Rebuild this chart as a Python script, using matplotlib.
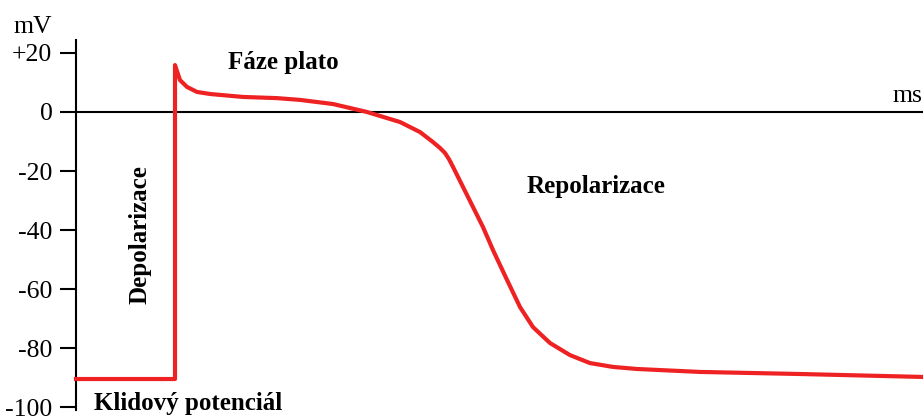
import matplotlib.pyplot as plt
import numpy as np

plt.rcParams['font.family'] = ['Liberation Serif', 'DejaVu Serif']

# akcni potencial srdecni bunky (cas v ms, napeti v mV)
t = np.array([0, 49.5, 49.5, 52, 55.5, 60.5, 67, 83.5, 100.5, 112, 128.5, 145.5,
              162, 172, 178.5, 182, 184.5, 186.5, 188.5, 193.5, 198.5, 203.5, 208.5,
              215.5, 222, 228.5, 237, 247, 257, 268.5, 280.5, 312, 362, 423.5])
mv = np.array([-90.5, -90.5, 15.9, 10.8, 8.5, 6.8, 6.1, 5.1, 4.7, 4.1, 2.7, 0,
               -3.4, -6.8, -10.2, -12.2, -13.9, -16.0, -18.6, -25.4, -32.2, -39.0,
               -46.8, -56.9, -66.1, -72.9, -78.3, -82.4, -85.1, -86.4, -87.1,
               -88.1, -88.8, -89.8])

yticks = [20, 0, -20, -40, -60, -80, -100]
ylabels = ['+20', '0', '-20', '-40', '-60', '-80', '-100']

fig = plt.figure(figsize=(9.23, 4.16), dpi=100)
ax = fig.add_axes([76/923, 6/416, 847/923, 370/416])

ax.plot(t, mv, color='#ee2222', lw=3, solid_joinstyle='round', clip_on=False, zorder=3)
ax.axhline(0, color='black', lw=1.5, zorder=2)

ax.set_xlim(0, 423.5)
ax.set_ylim(-101, 24.4)
ax.set_yticks(yticks)
ax.set_yticklabels(ylabels, fontsize=18.5)
ax.tick_params(axis='y', direction='out', length=11.5, width=1.5, pad=5.5)
ax.set_xticks([])
for s in ['top', 'right', 'bottom']:
    ax.spines[s].set_visible(False)
ax.spines['left'].set_linewidth(1.5)

ax.text(103.5, 16.9, 'Fáze plato', fontsize=18, fontweight='bold', ha='center', va='center')
ax.text(260, -25.4, 'Repolarizace', fontsize=18, fontweight='bold', ha='center', va='center')
ax.text(32, -41.7, 'Depolarizace', fontsize=18, fontweight='bold', ha='center', va='center', rotation=90)
ax.text(56, -101.0, 'Klidový potenciál', fontsize=18, fontweight='bold', ha='center', va='baseline')
ax.text(415.5, 5.4, 'ms', fontsize=18.5, ha='center', va='center')
fig.text(33/923, 1 - 27/416, 'mV', fontsize=18.5, ha='center', va='center')

fig.savefig('out.png', dpi=100)
